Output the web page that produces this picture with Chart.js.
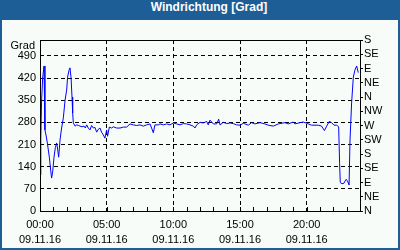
<!DOCTYPE html>
<html>
<head>
<meta charset="utf-8">
<script src="https://cdn.jsdelivr.net/npm/chart.js@4.4.0/dist/chart.umd.min.js"></script>
<style>
body { margin: 0; }
#frame { position: relative; width: 400px; height: 250px; background: #1C5E95; }
#title { position: absolute; left: 0; top: 0; width: 400px; height: 20px; line-height: 20px; padding-left: 18px; box-sizing: border-box;
         text-align: center; color: #fff; font: bold 12px "Liberation Sans", Arial, sans-serif; }
#inner { position: absolute; left: 2px; top: 20px; width: 396px; height: 228px; background: #F8FCF8; }
</style>
</head>
<body>
<div id="frame">
  <div id="title">Windrichtung [Grad]</div>
  <div id="inner"><canvas id="c" width="396" height="228"></canvas></div>
</div>
<script>
// time of day in hours (09.11.16) and wind direction in degrees
const hours = [
  0.00, 0.06, 0.12, 0.20, 0.30, 0.37, 0.45, 0.55, 0.70, 0.80, 0.87, 0.95,
  1.05, 1.15, 1.25, 1.33, 1.40, 1.50, 1.62, 1.75, 1.88, 2.00, 2.07, 2.18,
  2.25, 2.33, 2.40, 2.45, 2.50, 2.63, 2.75, 2.90, 3.00, 3.15, 3.30, 3.40,
  3.50, 3.62, 3.75, 3.87, 4.00, 4.12, 4.25, 4.37, 4.50, 4.62, 4.75, 4.87,
  5.00, 5.07, 5.20, 5.37, 5.50, 5.75, 6.00, 6.25, 6.50, 6.75, 7.00, 7.25,
  7.50, 7.75, 8.00, 8.25, 8.37, 8.50, 8.62, 8.87, 9.00, 9.25, 9.50, 9.75,
  10.00, 10.25, 10.50, 10.75, 11.00, 11.25, 11.50, 11.62, 11.75, 12.00, 12.25, 12.50,
  12.62, 12.75, 13.00, 13.25, 13.40, 13.50, 13.75, 14.00, 14.25, 14.50, 14.75, 15.00,
  15.25, 15.62, 15.87, 16.12, 16.50, 16.87, 17.12, 17.50, 17.87, 18.37, 18.62, 19.00,
  19.12, 19.50, 19.75, 20.00, 20.37, 20.87, 21.12, 21.33, 21.50, 21.70, 21.87, 22.05,
  22.25, 22.40, 22.47, 22.52, 22.65, 22.80, 22.95, 23.05, 23.18, 23.25, 23.37, 23.50,
  23.62, 23.75, 23.87
];
const direction = [
  114, 230, 350, 420, 458, 256, 240, 215, 170, 129, 104, 123,
  170, 200, 215, 193, 170, 224, 262, 294, 350, 382, 423, 445,
  452, 420, 360, 309, 278, 268, 272, 270, 268, 266, 268, 262,
  272, 262, 256, 270, 262, 264, 249, 258, 262, 249, 240, 230,
  256, 236, 265, 262, 266, 262, 262, 265, 265, 275, 272, 270,
  272, 268, 272, 275, 262, 247, 272, 272, 275, 272, 275, 272,
  278, 275, 272, 276, 275, 272, 268, 262, 272, 280, 278, 283,
  272, 287, 275, 275, 290, 272, 280, 276, 278, 276, 272, 271,
  277, 271, 279, 275, 279, 275, 271, 268, 275, 279, 275, 281,
  275, 279, 281, 277, 271, 271, 268, 254, 268, 283, 279, 271,
  271, 266, 150, 90, 86, 88, 100, 96, 82, 224, 341, 423,
  445, 458, 437
];

const gradTicks = [0, 70, 140, 210, 280, 350, 420, 490];
const compassTicks = [0, 45, 90, 135, 180, 225, 270, 315, 360, 405, 450, 495, 540];
const compassLabels = ['N', 'NE', 'E', 'SE', 'S', 'SW', 'W', 'NW', 'N', 'NE', 'E', 'SE', 'S'];
const hourTicks = [0, 1, 2, 3, 4, 5, 6, 7, 8, 9, 10, 11, 12, 13, 14, 15, 16, 17, 18, 19, 20, 21, 22, 23, 24];
const labelHours = [0, 5, 10, 15, 20];
const dateLabel = '09.11.16';

const points = hours.map((h, i) => ({x: h, y: direction[i]}));
const font = {family: '"Liberation Sans", Arial, sans-serif', size: 11};

// solid frame round the plot, inward hour ticks and the unit label
const framePlugin = {
  id: 'frame',
  afterDatasetsDraw(chart) {
    const {ctx, chartArea: a, scales: {x}} = chart;
    ctx.save();
    ctx.strokeStyle = '#000';
    ctx.lineWidth = 1;
    ctx.strokeRect(Math.round(a.left) + 0.5, Math.round(a.top) + 0.5,
                   Math.round(a.right - a.left), Math.round(a.bottom - a.top));
    ctx.beginPath();
    hourTicks.forEach(h => {
      const px = Math.round(x.getPixelForValue(h)) + 0.5;
      ctx.moveTo(px, Math.round(a.bottom));
      ctx.lineTo(px, Math.round(a.bottom) - 4);
    });
    ctx.stroke();
    ctx.fillStyle = '#000';
    ctx.font = '11px "Liberation Sans", Arial, sans-serif';
    ctx.textAlign = 'right';
    ctx.textBaseline = 'middle';
    ctx.fillText('Grad', a.left - 5, a.top + 6);
    ctx.restore();
  }
};

new Chart(document.getElementById('c'), {
  type: 'line',
  data: {
    datasets: [{
      data: points,
      borderColor: '#0000FF',
      borderWidth: 1,
      pointRadius: 0,
      tension: 0,
      fill: false
    }]
  },
  options: {
    responsive: false,
    animation: false,
    layout: {padding: {top: 20, left: 0, right: 0, bottom: 0}},
    plugins: {legend: {display: false}, tooltip: {enabled: false}},
    scales: {
      x: {
        type: 'linear', min: 0, max: 24,
        afterBuildTicks: s => { s.ticks = hourTicks.map(v => ({value: v})); },
        afterFit: s => { s.height = 37; },
        grid: {
          color: c => (c.tick && c.tick.value > 0 && labelHours.includes(c.tick.value)) ? '#000' : 'rgba(0,0,0,0)',
          drawTicks: false
        },
        border: {display: false, dash: [4, 3]},
        ticks: {
          autoSkip: false, maxRotation: 0, padding: 7, color: '#000',
          font: {...font, lineHeight: 1.35},
          callback: v => labelHours.includes(v) ? [String(v).padStart(2, '0') + ':00', dateLabel] : ''
        }
      },
      y: {
        position: 'left', min: 0, max: 540,
        afterBuildTicks: s => { s.ticks = gradTicks.map(v => ({value: v})); },
        afterFit: s => { s.width = 38; },
        grid: {color: '#000', drawTicks: false},
        border: {display: false, dash: [4, 3]},
        ticks: {autoSkip: false, padding: 4, color: '#000', font: font}
      },
      y2: {
        position: 'right', min: 0, max: 540,
        afterBuildTicks: s => { s.ticks = compassTicks.map(v => ({value: v})); },
        afterFit: s => { s.width = 38; },
        grid: {drawOnChartArea: false, drawTicks: true, tickLength: 3, color: '#000'},
        border: {display: false},
        ticks: {autoSkip: false, padding: 1, color: '#000', font: font,
                callback: v => compassLabels[compassTicks.indexOf(v)]}
      }
    }
  },
  plugins: [framePlugin]
});
</script>
</body>
</html>
